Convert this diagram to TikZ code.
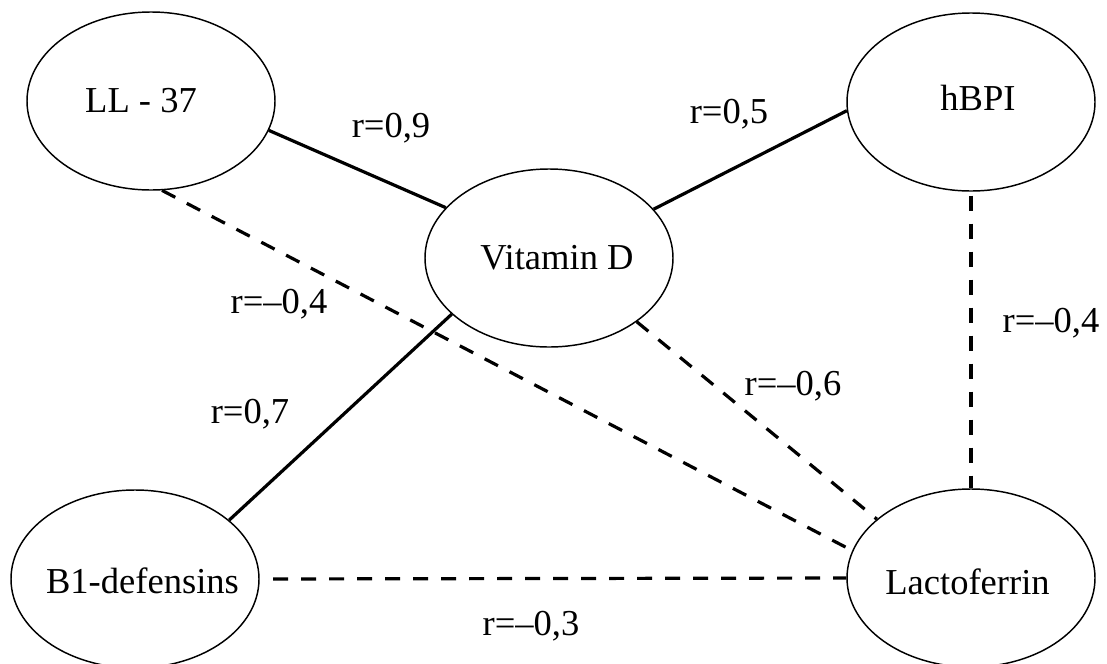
\documentclass[tikz,border=0pt]{standalone}
\usepackage{fontspec}
\setmainfont{Liberation Serif}
\usetikzlibrary{shapes.geometric}
\begin{document}
\begin{tikzpicture}[x=0.75pt,y=-0.75pt,
  ell/.style={ellipse,draw,line width=1.1pt,minimum width=186pt,minimum height=133.5pt,inner sep=0pt},
  txt/.style={anchor=base,inner sep=0pt,font=\fontsize{27.4}{32}\selectfont},
  solidlink/.style={line width=2.4pt},
  dashlink/.style={line width=2.4pt,dash pattern=on 11.25pt off 9.75pt}]
\useasboundingbox (0,0) rectangle (1107,664);
% ellipses
\node[ell] (ll) at (151,101) {};
\node[ell] (hbpi) at (971,102) {};
\node[ell] (vitd) at (549,258) {};
\node[ell] (b1) at (135,579) {};
\node[ell] (lacto) at (971,578) {};
% node texts
\node[txt] (llt) at (141,112) {LL - 37};
\node[txt] (hbpit) at (978,110) {hBPI};
\node[txt] (vitdt) at (557,269) {Vitamin D};
\node[txt] (b1t) at (142.5,593) {B1-defensins};
\node[txt] (lactot) at (967.5,594) {Lactoferrin};
% connectors
\draw[solidlink] (ll.346.8) -- (vitd.154.1);
\draw[solidlink] (vitd.25.9) -- (hbpi.184.6);
\draw[solidlink] (vitd.210.3) -- (b1.32.8);
\draw[dashlink] (hbpi.south) ++(0,4) coordinate (hs) -- (lacto.north);
\draw[dashlink] (ll.277) -- (lacto.167);
\draw[dashlink] (vitd.324.5) -- (lacto.148);
\draw[dashlink,shorten <=10pt] (b1.east) -- (lacto.west);
% labels
\node[txt] (l1) at (391,137) {r=0,9};
\node[txt] (l2) at (729,123) {r=0,5};
\node[txt] (l3) at (279,313) {r=–0,4};
\node[txt] (l4) at (1051,332) {r=–0,4};
\node[txt] (l5) at (793,395) {r=–0,6};
\node[txt] (l6) at (250,423) {r=0,7};
\node[txt] (l7) at (531,635) {r=–0,3};
\end{tikzpicture}
\end{document}
